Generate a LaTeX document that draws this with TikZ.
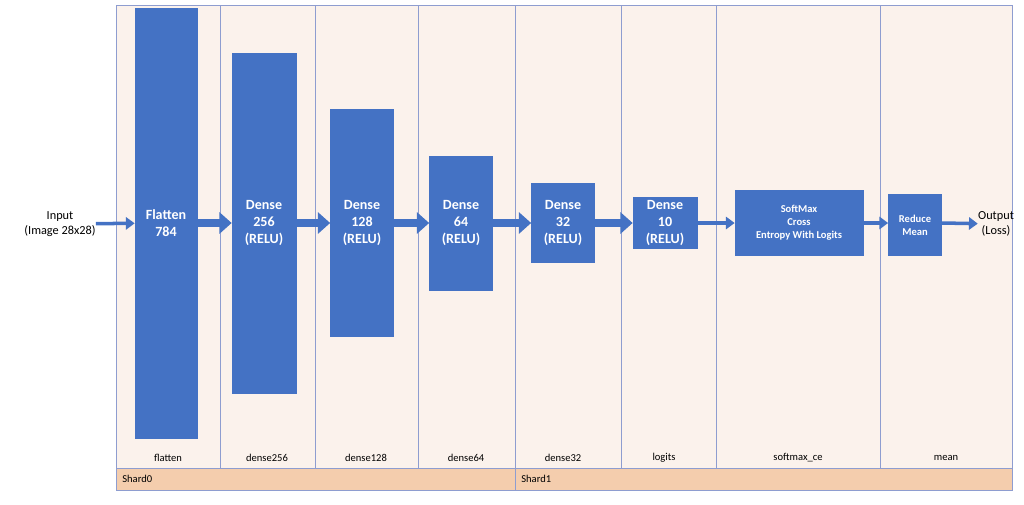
\documentclass[tikz,border=0pt]{standalone}
\usepackage{fontspec}
\setmainfont{Carlito}
\usetikzlibrary{arrows.meta,positioning}
\definecolor{blk}{HTML}{4472C4}
\definecolor{bgpeach}{HTML}{FBF2EC}
\definecolor{shardbar}{HTML}{F4CDAD}
\definecolor{frame}{HTML}{8E9DD0}
\begin{document}
\begin{tikzpicture}[
        x=0.02cm, y=-0.02cm,
        layer/.style={draw=blk, fill=blk, text=white, align=center, font=\fontsize{8}{9.5}\selectfont, inner sep=0pt},
        smalllayer/.style={layer, font=\fontsize{6}{7.5}\selectfont\bfseries},
        flow/.style={blk, line width=4pt, -{Triangle[width=12pt,length=7pt]}},
        thinflow/.style={blk, line width=2pt, -{Triangle[width=7pt,length=5pt]}},
        collabel/.style={font=\fontsize{6}{7}\selectfont, inner sep=0pt},
        io/.style={align=center, font=\fontsize{7}{8.5}\selectfont, inner sep=0pt}
    ]
    \useasboundingbox (0,0) rectangle (1024,504);

    % Background and columns
    \fill[bgpeach] (116,5) rectangle (1012,468);
    \fill[shardbar] (116,468) rectangle (1012,490);
    \draw[frame, line width=0.4pt] (116,5) rectangle (1012,490);
    \draw[frame, line width=0.4pt] (116,468) -- (1012,468);
    \foreach \xx in {220,315,418,621,716,880}
        \draw[frame, line width=0.4pt] (\xx,5) -- (\xx,468);
    \draw[frame, line width=0.4pt] (515,5) -- (515,490);
    \node[collabel, anchor=west] (shard0) at (122,479) {Shard0};
    \node[collabel, anchor=west] (shard1) at (521,479) {Shard1};

    % Column labels
    \node[collabel] (lflatten) at (168,458) {flatten};
    \node[collabel] (ldense256) at (267,458) {dense256};
    \node[collabel] (ldense128) at (366,458) {dense128};
    \node[collabel] (ldense64) at (466,458) {dense64};
    \node[collabel] (ldense32) at (563,458) {dense32};
    \node[collabel] (llogits) at (664,458) {logits};
    \node[collabel] (lsoftmax) at (798,458) {softmax\_ce};
    \node[collabel] (lmean) at (946,458) {mean};

    % Layers
    \node[io] (input) at (60,224) {Input\\(Image 28x28)};
    \node[layer, minimum width=62*0.02cm, minimum height=430*0.02cm] (flatten) at (166,223) {\textbf{Flatten}\\\textbf{784}};
    \node[layer, minimum width=64*0.02cm, minimum height=340*0.02cm] (dense256) at (264,223) {\textbf{Dense}\\\textbf{256}\\\textbf{(RELU)}};
    \node[layer, minimum width=63*0.02cm, minimum height=227*0.02cm] (dense128) at (362,223) {\textbf{Dense}\\\textbf{128}\\\textbf{(RELU)}};
    \node[layer, minimum width=63*0.02cm, minimum height=134*0.02cm] (dense64) at (461,223) {\textbf{Dense}\\\textbf{64}\\\textbf{(RELU)}};
    \node[layer, minimum width=63*0.02cm, minimum height=79*0.02cm] (dense32) at (563,223) {\textbf{Dense}\\\textbf{32}\\\textbf{(RELU)}};
    \node[layer, minimum width=64*0.02cm, minimum height=51*0.02cm] (logits) at (665,223) {\textbf{Dense}\\\textbf{10}\\\textbf{(RELU)}};
    \node[smalllayer, minimum width=128*0.02cm, minimum height=65*0.02cm] (softmax) at (799,223) {SoftMax\\Cross\\Entropy With Logits};
    \node[smalllayer, minimum width=53*0.02cm, minimum height=61*0.02cm] (mean) at (915,225) {Reduce\\Mean};
    \node[io] (output) at (996,224) {Output\\(Loss)};

    % Edges
    \draw[thinflow] (input) -- (flatten);
    \draw[flow] (flatten) -- (dense256);
    \draw[flow] (dense256) -- (dense128);
    \draw[flow] (dense128) -- (dense64);
    \draw[flow] (dense64) -- (dense32);
    \draw[flow] (dense32) -- (logits);
    \draw[thinflow] (logits) -- (softmax);
    \draw[thinflow] (softmax.east) -- (softmax.east -| mean.west);
    \draw[thinflow] (mean.east |- softmax.east) -- (output);
\end{tikzpicture}
\end{document}
